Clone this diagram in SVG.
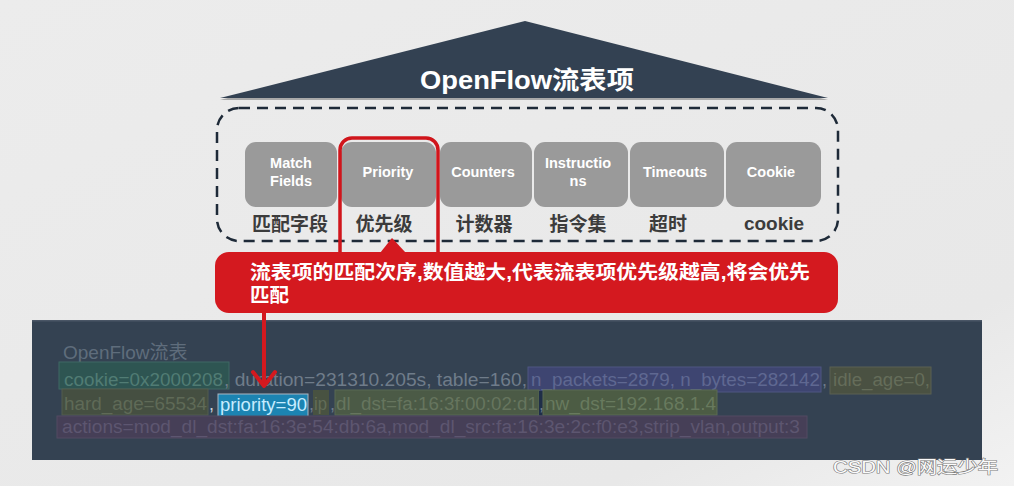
<svg xmlns="http://www.w3.org/2000/svg" width="1014" height="486" viewBox="0 0 1014 486">
  <style>
    .boxlbl { font-family: "Liberation Sans", Arial, sans-serif; font-weight: bold; font-size: 14.5px; fill: #ffffff; text-anchor: middle; }
    .cn { font-family: "Liberation Sans", "Noto Sans CJK SC", sans-serif; font-weight: bold; font-size: 19px; fill: #3c3c3c; text-anchor: middle; }
    .gbox { fill: #9a9a9a; }
    .code { font-family: "Liberation Sans", Arial, sans-serif; font-size: 18px; }
    .plain { fill: #6f7c8a; }
  </style>
  <defs>
    <linearGradient id="bg" x1="0" y1="0" x2="1" y2="1">
      <stop offset="0" stop-color="#ececec"/>
      <stop offset="0.8" stop-color="#e8e8e8"/>
      <stop offset="1" stop-color="#f2f2f2"/>
    </linearGradient>
  </defs>
  <rect x="0" y="0" width="1014" height="486" fill="url(#bg)"/>

  <!-- Title triangle -->
  <g id="title">
    <polygon points="220,100 525,22 828,100" fill="#a9a9a9"/>
    <polygon points="220,98 525,21 828,98" fill="#334152"/>
    <text x="527" y="89" text-anchor="middle" font-family="Liberation Sans, 'Noto Sans CJK SC', sans-serif" font-weight="bold" font-size="25px" fill="#ffffff" textLength="214" lengthAdjust="spacingAndGlyphs">OpenFlow流表项</text>
  </g>

  <!-- Dashed container -->
  <g id="entry-fields">
    <rect x="217" y="108" width="621" height="133" rx="22" fill="none" stroke="#1e2a38" stroke-width="2.5" stroke-dasharray="11 7"/>
  </g>

  <g id="match-fields">
    <rect class="gbox" x="245" y="142" width="92" height="65" rx="11"/>
    <text class="boxlbl" x="291" y="168">Match</text>
    <text class="boxlbl" x="291" y="186">Fields</text>
    <text class="cn" x="290" y="231">匹配字段</text>
  </g>
  <g id="priority">
    <rect class="gbox" x="341" y="142" width="95" height="65" rx="11"/>
    <text class="boxlbl" x="388" y="177">Priority</text>
    <text class="cn" x="384" y="231">优先级</text>
  </g>
  <g id="counters">
    <rect class="gbox" x="440" y="142" width="92" height="65" rx="11"/>
    <text class="boxlbl" x="483" y="177">Counters</text>
    <text class="cn" x="484" y="231">计数器</text>
  </g>
  <g id="instructions">
    <rect class="gbox" x="534" y="142" width="94" height="65" rx="11"/>
    <text class="boxlbl" x="578" y="168">Instructio</text>
    <text class="boxlbl" x="578" y="186">ns</text>
    <text class="cn" x="578" y="231">指令集</text>
  </g>
  <g id="timeouts">
    <rect class="gbox" x="630" y="142" width="94" height="65" rx="11"/>
    <text class="boxlbl" x="675" y="177">Timeouts</text>
    <text class="cn" x="668" y="231">超时</text>
  </g>
  <g id="cookie">
    <rect class="gbox" x="726" y="142" width="95" height="65" rx="11"/>
    <text class="boxlbl" x="771" y="177">Cookie</text>
    <text class="cn" x="774" y="230">cookie</text>
  </g>

  <!-- Red highlight around Priority -->
  <g id="priority-highlight">
    <rect x="340" y="138" width="98" height="130" rx="12" fill="none" stroke="#d0151b" stroke-width="3.5"/>
  </g>

  <!-- Callout -->
  <g id="callout">
    <polygon points="380,253 392,238 406,253" fill="#d4191f"/>
    <rect x="215" y="252" width="623" height="61" rx="14" fill="#d4191f"/>
    <text x="250" y="279" font-family="Liberation Sans, 'Noto Sans CJK SC', sans-serif" font-weight="bold" font-size="19.5px" fill="#ffffff" textLength="560" lengthAdjust="spacingAndGlyphs">流表项的匹配次序,数值越大,代表流表项优先级越高,将会优先</text>
    <text x="250" y="302" font-family="Liberation Sans, 'Noto Sans CJK SC', sans-serif" font-weight="bold" font-size="19.5px" fill="#ffffff">匹配</text>
  </g>

  <!-- Flow table panel -->
  <g id="flow-table">
    <rect x="32" y="320" width="950" height="140" fill="#344252"/>
    <rect x="32" y="320" width="950" height="1.5" fill="#4a5666"/>
    <text x="63" y="359" font-family="Liberation Sans, 'Noto Sans CJK SC', sans-serif" font-size="19px" fill="#5f6d7c">OpenFlow流表</text>

    <!-- line 1 -->
    <rect x="59" y="362" width="170" height="27" fill="#2e5552" stroke="#3f6864" stroke-width="1"/>
    <text class="code" x="64" y="386" fill="#517c74" textLength="159" lengthAdjust="spacingAndGlyphs">cookie=0x2000208</text>
    <text class="code plain" x="224" y="386" textLength="303" lengthAdjust="spacingAndGlyphs">, duration=231310.205s, table=160,</text>
    <rect x="528" y="367" width="293" height="25" fill="#3e4571" stroke="#4e5682" stroke-width="1"/>
    <text class="code" x="531" y="386" fill="#5f6891" textLength="289" lengthAdjust="spacingAndGlyphs">n_packets=2879, n_bytes=282142</text>
    <text class="code plain" x="822" y="386">,</text>
    <rect x="830" y="367" width="101" height="27" fill="#4a5142" stroke="#5a6152" stroke-width="1"/>
    <text class="code" x="833" y="386" fill="#656d5a" textLength="97" lengthAdjust="spacingAndGlyphs">idle_age=0,</text>

    <!-- line 2 -->
    <rect x="62" y="389" width="146" height="26" fill="#454f41" stroke="#525c4e" stroke-width="1"/>
    <text class="code" x="64" y="410" fill="#5f6a57" textLength="143" lengthAdjust="spacingAndGlyphs">hard_age=65534</text>
    <text class="code" x="209" y="410" fill="#c8d2dc">,</text>
    <rect x="217" y="418" width="93" height="2" fill="#c87373"/>
    <rect x="218" y="394" width="90" height="23" fill="#1c84b2" stroke="#a9b6c2" stroke-width="1"/>
    <text class="code" x="220" y="411" fill="#c6ecff" textLength="87" lengthAdjust="spacingAndGlyphs">priority=90</text>
    <text class="code plain" x="309" y="410">,</text>
    <rect x="313" y="390" width="16" height="25" fill="#485241"/>
    <text class="code" x="314" y="410" fill="#636d58" textLength="13" lengthAdjust="spacingAndGlyphs">ip</text>
    <text class="code plain" x="330" y="410">,</text>
    <rect x="335" y="390" width="204" height="25" fill="#4b5a46" stroke="#596853" stroke-width="1"/>
    <text class="code" x="336" y="410" fill="#66755e" textLength="202" lengthAdjust="spacingAndGlyphs">dl_dst=fa:16:3f:00:02:d1</text>
    <rect x="539" y="391" width="4" height="24" fill="#1f2e48"/>
    <text class="code plain" x="539" y="410">,</text>
    <rect x="543" y="390" width="174" height="25" fill="#4c5c44" stroke="#5a6a52" stroke-width="1"/>
    <text class="code" x="545" y="410" fill="#687a5e" textLength="171" lengthAdjust="spacingAndGlyphs">nw_dst=192.168.1.4</text>

    <!-- line 3 -->
    <rect x="57" y="416" width="750" height="22" fill="#463f57" stroke="#524b62" stroke-width="1"/>
    <text class="code" x="62" y="433" fill="#5d5670" textLength="738" lengthAdjust="spacingAndGlyphs">actions=mod_dl_dst:fa:16:3e:54:db:6a,mod_dl_src:fa:16:3e:2c:f0:e3,strip_vlan,output:3</text>
  </g>

  <!-- Connectors -->
  <g id="connectors" fill="none" stroke="#d4191f" stroke-width="4" stroke-linecap="round" stroke-linejoin="round">
    <line x1="264" y1="313" x2="264" y2="384"/>
    <polyline points="253,372 264,386 275,372"/>
  </g>

  <!-- Watermark -->
  <text x="833" y="473" font-family="Liberation Sans, 'Noto Sans CJK SC', sans-serif" font-size="17px" fill="#fbfbfb" stroke="#7a7a7a" stroke-width="1.2" paint-order="stroke" textLength="165" lengthAdjust="spacingAndGlyphs">CSDN @网运少年</text>
</svg>
